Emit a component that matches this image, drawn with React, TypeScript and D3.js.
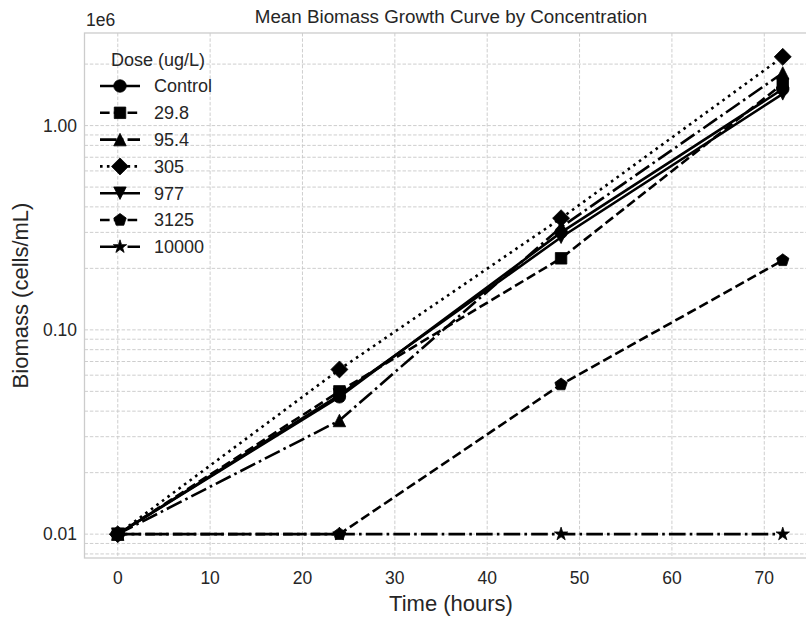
import React from "react";
import * as d3 from "d3";

// ---- Data (biomass in units of 1e6 cells/mL) ----
const times = [0, 24, 48, 72];
const doseLabels = ["Control", "29.8", "95.4", "305", "977", "3125", "10000"];
const controlVals = [0.01, 0.047, 0.3, 1.51];
const dose29_8 = [0.01, 0.05, 0.224, 1.6];
const dose95_4 = [0.01, 0.036, 0.318, 1.81];
const dose305 = [0.01, 0.064, 0.352, 2.17];
const dose977 = [0.01, 0.048, 0.284, 1.43];
const dose3125 = [0.01, 0.01, 0.054, 0.219];
const dose10000 = [0.01, 0.01, 0.01, 0.01];
const seriesValues = [controlVals, dose29_8, dose95_4, dose305, dose977, dose3125, dose10000];
const xTicks = [0, 10, 20, 30, 40, 50, 60, 70];
const yTicks = [0.01, 0.1, 1];
const yTickLabels = ["0.01", "0.10", "1.00"];

// ---- Styles ----
const LW = 2.6;
const dashes = [
  "",
  `${3.7 * LW},${1.6 * LW}`,
  `${6.4 * LW},${1.6 * LW},${1 * LW},${1.6 * LW}`,
  `${1 * LW},${1.65 * LW}`,
  "",
  `${3.7 * LW},${1.6 * LW}`,
  `${6.4 * LW},${1.6 * LW},${1 * LW},${1.6 * LW}`,
];
const markerKinds = ["circle", "square", "tri", "diamond", "triDown", "pentagon", "star"];
const FONT = "'Liberation Sans', Arial, sans-serif";
const TXT = "#262626";

const W = 806;
const H = 617;
const left = 84.5;
const right = 816;
const top = 33;
const bottom = 558;

function polyPath(pts: [number, number][]) {
  return "M" + pts.map((p) => `${p[0].toFixed(2)},${p[1].toFixed(2)}`).join("L") + "Z";
}

function markerPath(kind: string, m: number): string {
  const h = m / 2;
  switch (kind) {
    case "circle":
      return d3.symbol(d3.symbolCircle, Math.PI * h * h)() as string;
    case "square":
      return polyPath([[-h, -h], [h, -h], [h, h], [-h, h]]);
    case "tri":
      return polyPath([[0, -h], [h, h], [-h, h]]);
    case "triDown":
      return polyPath([[0, h], [h, -h], [-h, -h]]);
    case "diamond": {
      const r = h * Math.SQRT2;
      return polyPath([[0, -r], [r, 0], [0, r], [-r, 0]]);
    }
    case "pentagon": {
      const pts: [number, number][] = [];
      for (let i = 0; i < 5; i++) {
        const a = -Math.PI / 2 + (i * 2 * Math.PI) / 5;
        pts.push([h * Math.cos(a), h * Math.sin(a)]);
      }
      return polyPath(pts);
    }
    case "star": {
      const pts: [number, number][] = [];
      for (let i = 0; i < 10; i++) {
        const a = -Math.PI / 2 + (i * Math.PI) / 5;
        const r = i % 2 === 0 ? h : h * 0.381966;
        pts.push([r * Math.cos(a), r * Math.sin(a)]);
      }
      return polyPath(pts);
    }
  }
  return "";
}

const markerSizes: Record<string, number> = {
  circle: 12.5,
  square: 11.5,
  tri: 12.5,
  triDown: 12.5,
  diamond: 12,
  pentagon: 13,
  star: 14,
};

export default function App() {
  const x = d3.scaleLinear().domain([-3.6, 75.6]).range([left, right]);
  const allVals = seriesValues.flat();
  const lmin = Math.log10(d3.min(allVals) as number);
  const lmax = Math.log10(d3.max(allVals) as number);
  const pad = (lmax - lmin) * 0.05;
  const y = d3
    .scaleLog()
    .domain([Math.pow(10, lmin - pad), Math.pow(10, lmax + pad)])
    .range([bottom, top]);

  const [d0, d1] = y.domain();
  const minor: number[] = [];
  for (let e = Math.floor(Math.log10(d0)); e <= Math.ceil(Math.log10(d1)); e++) {
    for (let k = 2; k <= 9; k++) {
      const v = k * Math.pow(10, e);
      if (v >= d0 && v <= d1) minor.push(v);
    }
  }

  const line = d3
    .line<number>()
    .x((_, i) => x(times[i]))
    .y((d) => y(d));

  const legendX = 100;
  const legendY0 = 86;
  const legendDy = 26.8;

  return (
    <svg
      width={W}
      height={H}
      style={{ position: "absolute", left: 0, top: 0, background: "#fff" }}
      fontFamily={FONT}
    >
      <defs>
        <clipPath id="plotClip">
          <rect x={left} y={top} width={right - left} height={bottom - top} />
        </clipPath>
      </defs>
      <rect x={0} y={0} width={W} height={H} fill="#fff" />
      {/* grid */}
      <g stroke="#c8c8c8" strokeWidth={0.9} strokeDasharray="3.5,1.8" fill="none">
        {minor.map((v) => (
          <line key={"mn" + v} x1={left} x2={right} y1={y(v)} y2={y(v)} />
        ))}
        {yTicks.map((v) => (
          <line key={"mj" + v} x1={left} x2={right} y1={y(v)} y2={y(v)} />
        ))}
        {xTicks.map((v) => (
          <line key={"x" + v} x1={x(v)} x2={x(v)} y1={top} y2={bottom} />
        ))}
      </g>
      {/* spines */}
      <rect
        x={left}
        y={top}
        width={right - left}
        height={bottom - top}
        fill="none"
        stroke="#cccccc"
        strokeWidth={1.3}
      />
      {/* series */}
      <g clipPath="url(#plotClip)">
        {seriesValues.map((vals, si) => (
          <g key={"s" + si}>
            <path
              d={line(vals) as string}
              fill="none"
              stroke="#000"
              strokeWidth={LW}
              strokeDasharray={dashes[si]}
            />
            {vals.map((v, i) => (
              <path
                key={i}
                d={markerPath(markerKinds[si], markerSizes[markerKinds[si]])}
                transform={`translate(${x(times[i])},${y(v)})`}
                fill="#000"
                stroke="#000"
                strokeWidth={0.8}
              />
            ))}
          </g>
        ))}
      </g>
      {/* x ticks */}
      {xTicks.map((v) => (
        <text
          key={"xt" + v}
          x={x(v)}
          y={584}
          textAnchor="middle"
          fontSize={17.5}
          fill={TXT}
        >
          {v}
        </text>
      ))}
      {/* y ticks */}
      {yTicks.map((v, i) => (
        <text
          key={"yt" + v}
          x={77}
          y={y(v) + 6}
          textAnchor="end"
          fontSize={17.5}
          fill={TXT}
        >
          {yTickLabels[i]}
        </text>
      ))}
      <text x={86} y={26} fontSize={17.5} fill={TXT}>
        1e6
      </text>
      {/* labels */}
      <text x={451} y={611} textAnchor="middle" fontSize={22} fill={TXT}>
        Time (hours)
      </text>
      <text
        transform={`translate(28,${(top + bottom) / 2}) rotate(-90)`}
        textAnchor="middle"
        fontSize={22}
        fill={TXT}
      >
        Biomass (cells/mL)
      </text>
      <text x={451} y={23} textAnchor="middle" fontSize={18.8} fill={TXT}>
        Mean Biomass Growth Curve by Concentration
      </text>
      {/* legend */}
      <text x={158} y={66} textAnchor="middle" fontSize={18} fill={TXT}>
        Dose (ug/L)
      </text>
      {doseLabels.map((lab, i) => {
        const ly = legendY0 + i * legendDy;
        const kind = markerKinds[i];
        return (
          <g key={"lg" + i}>
            <line
              x1={legendX}
              x2={legendX + 40}
              y1={ly}
              y2={ly}
              stroke="#000"
              strokeWidth={LW}
              strokeDasharray={dashes[i]}
            />
            <path
              d={markerPath(kind, markerSizes[kind])}
              transform={`translate(${legendX + 20},${ly})`}
              fill="#000"
              stroke="#000"
              strokeWidth={0.8}
            />
            <text x={154} y={ly + 6.3} fontSize={18} fill={TXT}>
              {lab}
            </text>
          </g>
        );
      })}
    </svg>
  );
}
